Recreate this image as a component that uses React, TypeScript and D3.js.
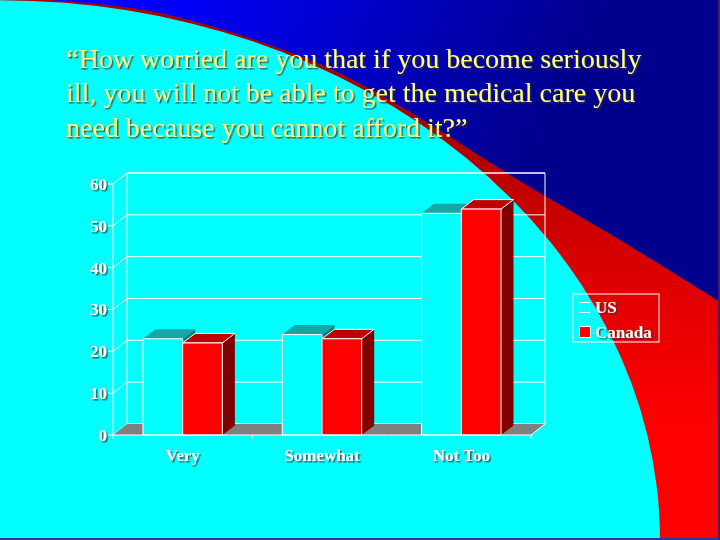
import React from "react";
import * as d3 from "d3";

const categories = ["Very", "Somewhat", "Not Too"];
const seriesNames = ["US", "Canada"];
const usValues = [23, 24, 53];
const canadaValues = [22, 23, 54];
const yTicks = [0, 10, 20, 30, 40, 50, 60];
const titleLines = [
  "\u201cHow worried are you that if you become seriously",
  "ill, you will not be able to get the medical care you",
  "need because you cannot afford it?\u201d",
];

const W = 720;
const H = 540;
const WDX = 14, WDY = 11; // wall depth
const BDX = 12.5, BDY = 9.5; // bar depth

const seriesStyle: Record<string, { front: string; top: string; side: string; topStroke: string }> = {
  US: { front: "#00ffff", top: "#16a6a6", side: "#008080", topStroke: "none" },
  Canada: { front: "#ff0000", top: "#c00000", side: "#800000", topStroke: "#ffffff" },
};

export default function App() {
  const x = d3.scaleBand<string>().domain(categories).range([113, 531]).padding(0);
  const xs = d3.scaleBand<string>().domain(seriesNames).range([0, x.bandwidth()]).paddingInner(0).paddingOuter(0.755);
  const y = d3.scaleLinear().domain([0, 60]).range([435, 184]);

  const x0 = x.range()[0];
  const x1 = x.range()[1];
  const yTop = y(60);
  const yBase = y(0);

  // backgrounds
  const ell = (cx: number, cy: number, rx: number, ry: number) =>
    `M${cx - rx},${cy} A${rx},${ry} 0 0 1 ${cx + rx},${cy} L${cx + rx},${cy + ry} L${cx - rx},${cy + ry} Z`;
  const redEdge = d3.line().curve(d3.curveCatmullRom.alpha(0.5))([
    [-5, -3], [150, 11], [300, 56], [370, 89], [433, 126], [515, 178], [620, 240], [725, 305],
  ]) as string;
  const redPath = redEdge + ` L725,545 L-5,545 Z`;

  const bars: { cat: string; ser: string; v: number }[] = [];
  categories.forEach((c, i) => {
    bars.push({ cat: c, ser: "US", v: usValues[i] });
    bars.push({ cat: c, ser: "Canada", v: canadaValues[i] });
  });

  const shadowText = "url(#tshadow)";

  return (
    <svg width={W} height={H} style={{ position: "absolute", left: 0, top: 0, display: "block" }}>
      <defs>
        <linearGradient id="blueG" gradientUnits="userSpaceOnUse" x1="150" y1="0" x2="520" y2="180">
          <stop offset="0" stopColor="#0000ff" />
          <stop offset="1" stopColor="#00008c" />
        </linearGradient>
        <linearGradient id="redG" gradientUnits="userSpaceOnUse" x1="0" y1="120" x2="0" y2="430">
          <stop offset="0" stopColor="#a80000" />
          <stop offset="0.5" stopColor="#dd0000" />
          <stop offset="1" stopColor="#ff0000" />
        </linearGradient>
        <filter id="tshadow" x="-10%" y="-20%" width="120%" height="150%">
          <feDropShadow dx="1.5" dy="1.5" stdDeviation="0.4" floodColor="#333333" floodOpacity="0.75" />
        </filter>
      </defs>

      <rect x={0} y={0} width={W} height={H} fill="url(#blueG)" />
      <path d={redPath} fill="url(#redG)" />
      <path d={ell(0, 540, 660, 540)} fill="#00ffff" />
      <rect x={0} y={H - 2} width={W} height={2} fill="#2a3a9a" />
      <rect x={W - 2} y={0} width={2} height={H} fill="#4a1a6a" />

      {/* Title */}
      <g fontFamily="'Liberation Serif', 'Times New Roman', serif" fontSize={28} fill="#ffff80" filter={shadowText}>
        {titleLines.map((t, i) => (
          <text key={i} x={66} y={68 + i * 34.3}>{t}</text>
        ))}
      </g>

      {/* back wall */}
      <g stroke="#ffffff" strokeWidth={1} fill="none">
        <polygon
          points={`${x0 + WDX},${yTop - WDY} ${x1 + WDX},${yTop - WDY} ${x1 + WDX},${yBase - WDY} ${x0 + WDX},${yBase - WDY}`}
        />
        {yTicks.map((t) => (
          <g key={t}>
            <line x1={x0 + WDX} x2={x1 + WDX} y1={y(t) - WDY} y2={y(t) - WDY} />
            <line x1={x0} x2={x0 + WDX} y1={y(t)} y2={y(t) - WDY} />
          </g>
        ))}
      </g>
      {/* floor */}
      <polygon
        points={`${x0},${yBase} ${x0 + WDX},${yBase - WDY} ${x1 + WDX},${yBase - WDY} ${x1},${yBase}`}
        fill="#808080"
      />

      {/* bars */}
      {bars.map((b, i) => {
        const st = seriesStyle[b.ser];
        const bx = (x(b.cat) as number) + (xs(b.ser) as number);
        const bw = xs.bandwidth();
        const yt = y(b.v);
        const front = `${bx},${yt} ${bx + bw},${yt} ${bx + bw},${yBase} ${bx},${yBase}`;
        const top = `${bx},${yt} ${bx + BDX},${yt - BDY} ${bx + bw + BDX},${yt - BDY} ${bx + bw},${yt}`;
        const side = `${bx + bw},${yt} ${bx + bw + BDX},${yt - BDY} ${bx + bw + BDX},${yBase - BDY} ${bx + bw},${yBase}`;
        return (
          <g key={i}>
            <polygon points={side} fill={st.side} />
            <polygon points={top} fill={st.top} stroke={st.topStroke} strokeWidth={1} strokeLinejoin="round" />
            <polygon points={front} fill={st.front} stroke="#ffffff" strokeWidth={1} />
          </g>
        );
      })}

      {/* front axes */}
      <g stroke="#ffffff" strokeWidth={1}>
        <line x1={x0} x2={x0} y1={yTop} y2={yBase} />
        <line x1={x0} x2={x1} y1={yBase} y2={yBase} />
        <line x1={x1} x2={x1 + WDX} y1={yBase} y2={yBase - WDY} />
        {yTicks.map((t) => (
          <line key={t} x1={x0 - 5} x2={x0} y1={y(t)} y2={y(t)} />
        ))}
        {[0, 1, 2, 3].map((k) => (
          <line key={k} x1={x0 + k * x.step()} x2={x0 + k * x.step()} y1={yBase} y2={yBase + 4} />
        ))}
      </g>

      {/* axis labels */}
      <g fontFamily="'Liberation Serif', 'Times New Roman', serif" fontWeight="bold" fontSize={17} fill="#ffffff" filter={shadowText}>
        {yTicks.map((t) => (
          <text key={t} x={107} y={y(t)} dy="0.35em" textAnchor="end">{t}</text>
        ))}
        {categories.map((c) => (
          <text key={c} x={(x(c) as number) + x.bandwidth() / 2} y={461} textAnchor="middle">{c}</text>
        ))}
      </g>

      {/* legend */}
      <rect x={573} y={294} width={86} height={48} fill="none" stroke="#ffffff" strokeWidth={1} />
      <rect x={579.5} y={302.5} width={10} height={10} fill="#00ffff" stroke="#ffffff" strokeWidth={1} />
      <rect x={579.5} y={326.5} width={11} height={11} fill="#ff0000" stroke="#ffffff" strokeWidth={1} />
      <g fontFamily="'Liberation Serif', 'Times New Roman', serif" fontWeight="bold" fontSize={17} fill="#ffffff" filter={shadowText}>
        <text x={595} y={313}>{seriesNames[0]}</text>
        <text x={595} y={338}>{seriesNames[1]}</text>
      </g>
    </svg>
  );
}
